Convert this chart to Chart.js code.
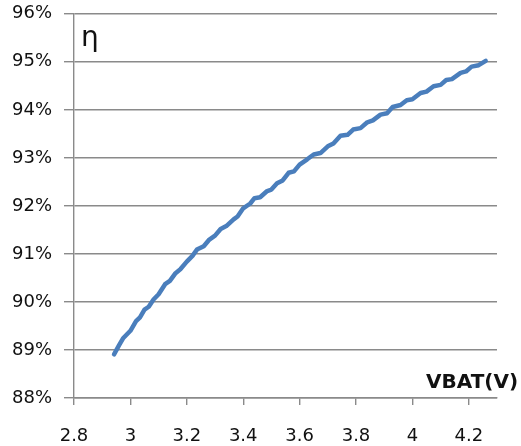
<!DOCTYPE html>
<html>
<head>
<meta charset="utf-8">
<script src="https://cdn.jsdelivr.net/npm/chart.js@4.4.1/dist/chart.umd.min.js"></script>
<style>
  html, body { margin: 0; padding: 0; background: #fff; }
  #wrap { position: relative; width: 521px; height: 446px; overflow: hidden; }
  canvas { display: block; position: absolute; left: 0; top: -9px; }
  .lbl { position: absolute; font-family: "DejaVu Sans", sans-serif; color: #111; line-height: 1; white-space: nowrap; }
  #eta { left: 81px; top: 22.6px; font-size: 28px; }
  #vbat { left: 426px; top: 370.8px; font-size: 20px; font-weight: bold; }
</style>
</head>
<body>
<div id="wrap">
  <canvas id="c" width="521" height="455"></canvas>
  <div class="lbl" id="eta">η</div>
  <div class="lbl" id="vbat">VBAT(V)</div>
</div>
<script>
// Battery voltage (V)
const vbat = [2.942, 2.96, 2.975, 3.00, 3.02, 3.034, 3.05, 3.065, 3.082, 3.10, 3.123, 3.14, 3.16, 3.177, 3.20, 3.22, 3.236, 3.26, 3.28, 3.30, 3.32, 3.34, 3.366, 3.38, 3.40, 3.425, 3.44, 3.46, 3.485, 3.50, 3.52, 3.54, 3.561, 3.58, 3.60, 3.627, 3.65, 3.674, 3.70, 3.72, 3.745, 3.77, 3.79, 3.816, 3.84, 3.86, 3.887, 3.91, 3.93, 3.958, 3.98, 4.00, 4.029, 4.05, 4.075, 4.10, 4.12, 4.14, 4.171, 4.19, 4.21, 4.235, 4.26];
// Efficiency (%)
const efficiency = [88.91, 89.10, 89.25, 89.40, 89.60, 89.68, 89.84, 89.90, 90.05, 90.16, 90.37, 90.44, 90.60, 90.68, 90.84, 90.96, 91.09, 91.16, 91.30, 91.38, 91.52, 91.58, 91.72, 91.78, 91.95, 92.05, 92.16, 92.18, 92.31, 92.34, 92.47, 92.53, 92.69, 92.72, 92.86, 92.97, 93.07, 93.10, 93.24, 93.30, 93.46, 93.48, 93.59, 93.62, 93.74, 93.78, 93.90, 93.93, 94.06, 94.10, 94.20, 94.22, 94.35, 94.38, 94.49, 94.52, 94.62, 94.64, 94.77, 94.80, 94.90, 94.93, 95.02];
const yTicks = [88, 89, 90, 91, 92, 93, 94, 95, 96];
const xTicks = [2.8, 3.0, 3.2, 3.4, 3.6, 3.8, 4.0, 4.2];

const points = vbat.map((v, i) => ({ x: v, y: efficiency[i] }));
const FONT = "DejaVu Sans";
const gridColor = '#8a8a8a';

new Chart(document.getElementById('c'), {
  type: 'line',
  data: {
    datasets: [{
      data: points,
      borderColor: '#4A7EBC',
      borderWidth: 4.5,
      pointRadius: 0,
      tension: 0,
      fill: false,
      borderCapStyle: 'round',
      borderJoinStyle: 'round'
    }]
  },
  options: {
    responsive: false,
    animation: false,
    devicePixelRatio: 1,
    layout: { padding: { left: 0, right: 24, top: 4, bottom: 0 } },
    plugins: { legend: { display: false }, tooltip: { enabled: false }, title: { display: false } },
    scales: {
      x: {
        type: 'linear',
        min: 2.8,
        max: 4.3,
        afterBuildTicks: s => { s.ticks = xTicks.map(v => ({ value: v })); },
        afterFit: s => { s.height = 48; },
        ticks: {
          font: { family: FONT, size: 18 },
          color: '#111',
          padding: 21,
          maxRotation: 0,
          callback: v => String(Number(v.toFixed(1)))
        },
        grid: { display: true, drawOnChartArea: false, drawTicks: true, tickLength: 7, color: gridColor, lineWidth: 1.4 },
        border: { display: true, color: gridColor, width: 1.4 }
      },
      y: {
        type: 'linear',
        min: 88,
        max: 96,
        afterBuildTicks: s => { s.ticks = yTicks.map(v => ({ value: v })); },
        afterFit: s => { s.width = 74; },
        ticks: {
          font: { family: FONT, size: 18 },
          color: '#111',
          padding: 12,
          callback: v => v + '%'
        },
        grid: { display: true, drawTicks: true, tickLength: 10, color: gridColor, lineWidth: 1.4 },
        border: { display: true, color: gridColor, width: 1.4 }
      }
    }
  }
});
</script>
</body>
</html>
